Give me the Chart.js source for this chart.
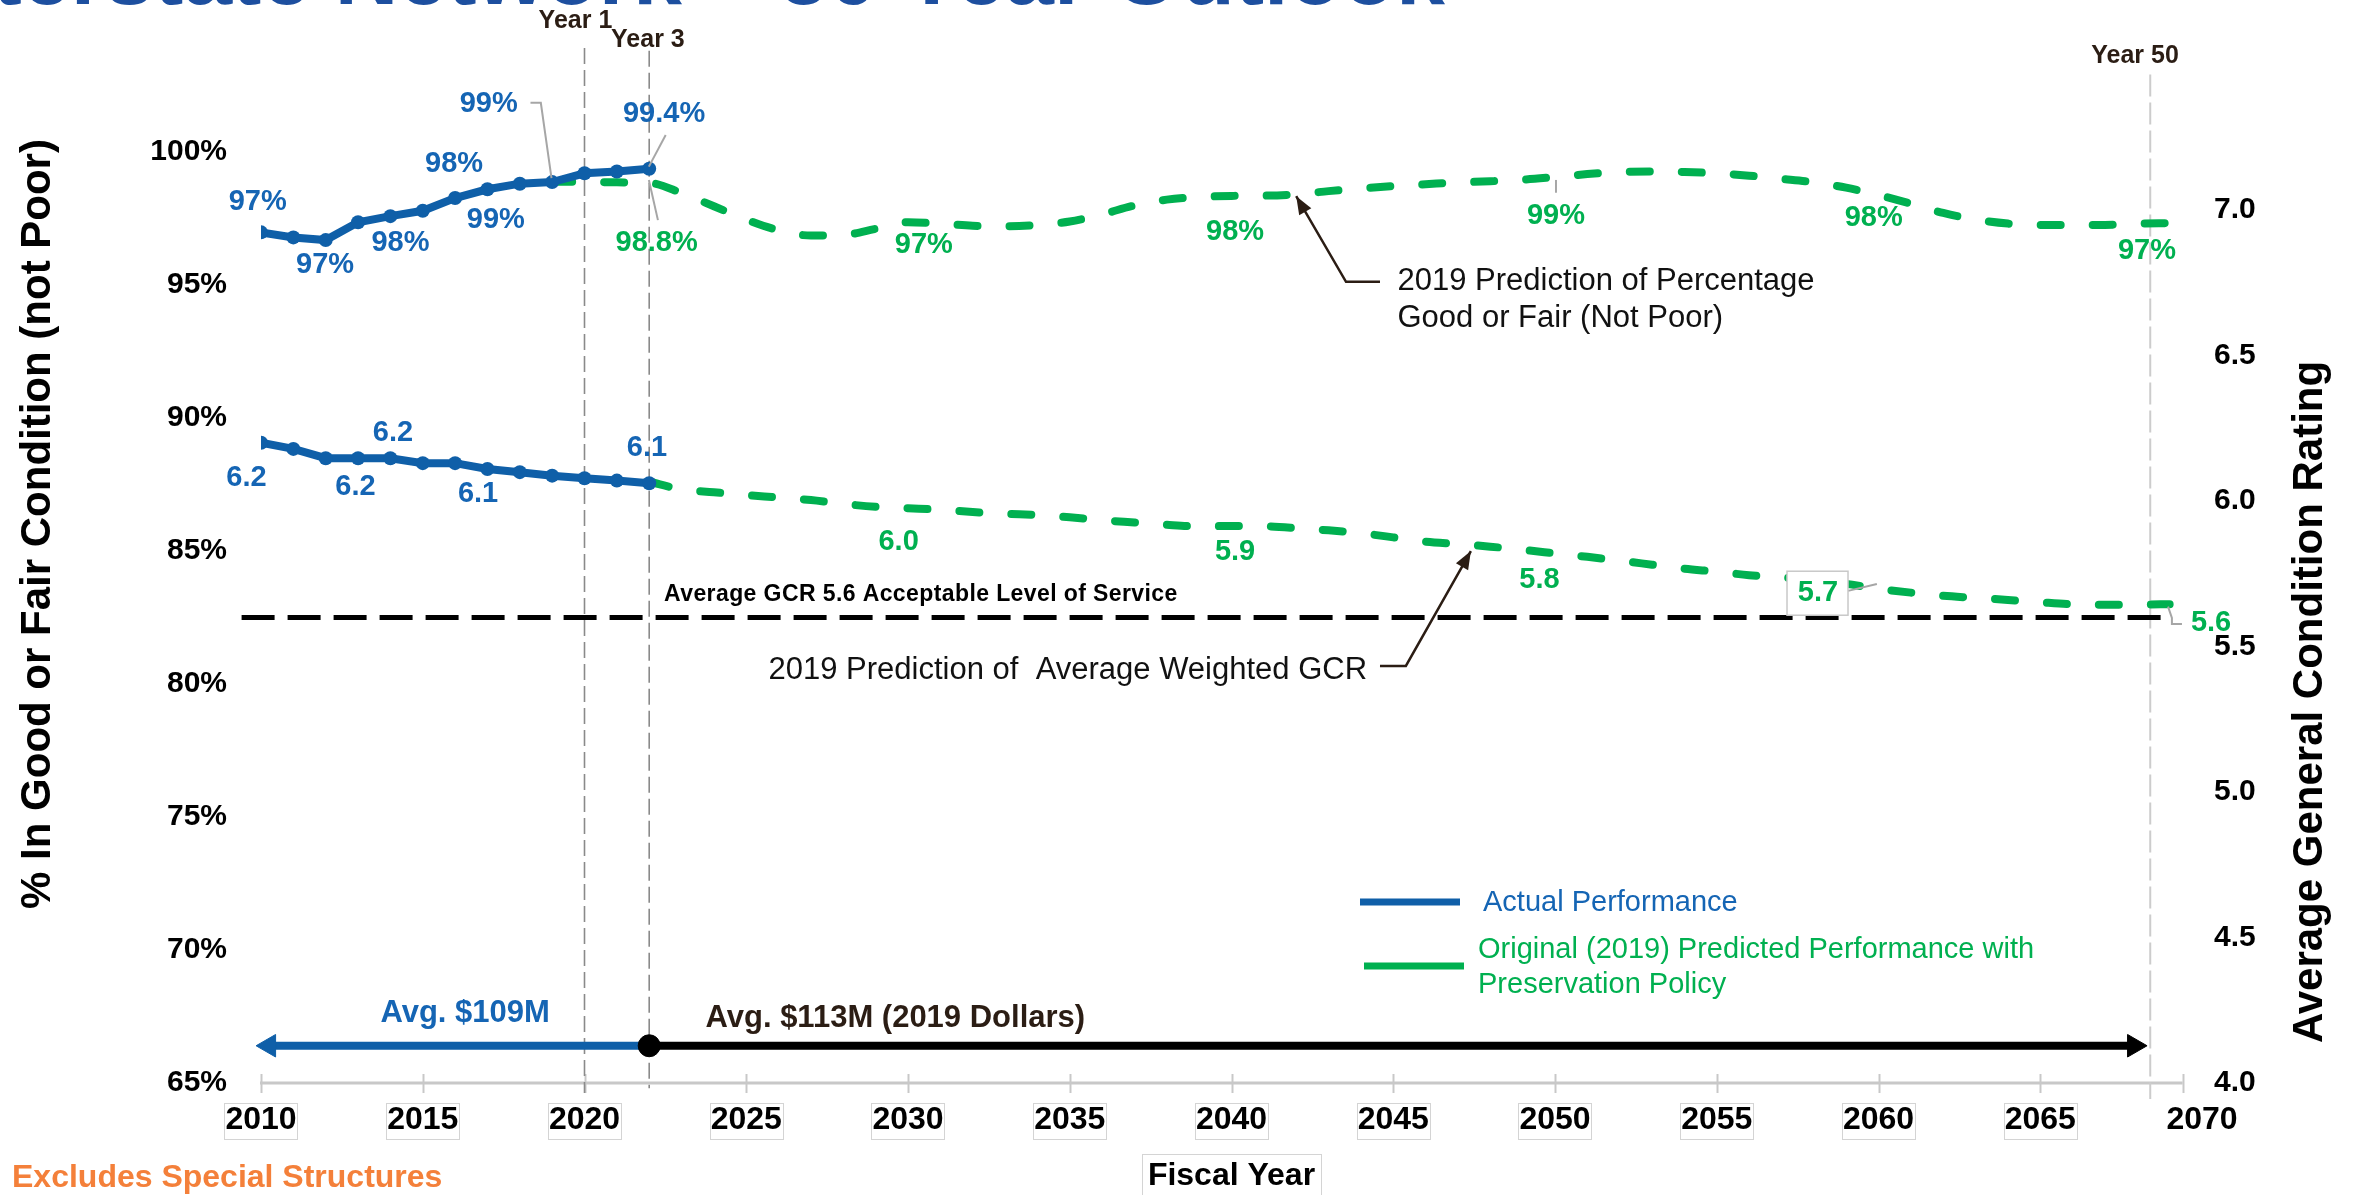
<!DOCTYPE html>
<html>
<head>
<meta charset="utf-8">
<script src="https://cdn.jsdelivr.net/npm/chart.js@4/dist/chart.umd.min.js"></script>
<style>
html,body{margin:0;padding:0;background:#fff;}
canvas{display:block;}
</style>
</head>
<body>
<canvas id="c" width="2356" height="1195"></canvas>
<script>
// ---------------- DATA ----------------
const actualYears = [2010,2011,2012,2013,2014,2015,2016,2017,2018,2019,2020,2021,2022];
const actualPct   = [96.97,96.78,96.68,97.35,97.58,97.78,98.26,98.59,98.80,98.86,99.19,99.26,99.36];
const actualGcr   = [6.200,6.179,6.147,6.147,6.147,6.130,6.130,6.110,6.099,6.087,6.078,6.070,6.061];

const predPctYears = [];
for (let y = 2019; y <= 2069; y++) predPctYears.push(y);
const predPct = [98.87,98.87,98.85,98.83,98.45,97.95,97.45,97.05,96.85,96.87,
                 97.10,97.35,97.30,97.22,97.20,97.25,97.38,97.65,97.98,98.20,
                 98.30,98.34,98.35,98.40,98.52,98.62,98.71,98.78,98.85,98.89,
                 98.95,99.05,99.16,99.24,99.26,99.24,99.19,99.10,98.98,98.85,
                 98.65,98.37,98.05,97.70,97.45,97.30,97.25,97.25,97.25,97.30,97.32];

const predGcrYears = [];
for (let y = 2022; y <= 2069; y++) predGcrYears.push(y);
const predGcr = [6.066,6.040,6.030,6.020,6.012,6.003,5.990,5.980,5.975,5.970,
                 5.962,5.956,5.952,5.944,5.934,5.926,5.918,5.913,5.914,5.913,
                 5.907,5.899,5.889,5.875,5.860,5.852,5.843,5.832,5.820,5.808,
                 5.795,5.781,5.767,5.757,5.745,5.738,5.728,5.715,5.698,5.685,
                 5.674,5.667,5.660,5.652,5.645,5.643,5.644,5.645];

const acceptableGcr = 5.6;
const acceptableSpan = [2009.4, 2069.1];
const markerYears = [2020, 2022, 2068.4];           // Year 1, Year 3, Year 50
const markerNames = ['Year 1', 'Year 3', 'Year 50'];
const spendBreakYear = 2022;
const spendStart = 2010.25, spendEnd = 2067.9;
const axisEndYear = 2069.4;

const xTicks   = [2010,2015,2020,2025,2030,2035,2040,2045,2050,2055,2060,2065,2070];
const pctTicks = [65,70,75,80,85,90,95,100];
const gcrTicks = [4.0,4.5,5.0,5.5,6.0,6.5,7.0];

// value labels: [text, year, value]
const actualPctLabels = [['97%',2009.9,98.12],['97%',2011.98,95.74],['98%',2014.31,96.58],['98%',2015.97,99.53],['99%',2017.26,97.43],['99%',2017.04,101.78],['99.4%',2022.46,101.42]];
const predPctLabels   = [['98.8%',2022.23,96.56],['97%',2030.49,96.49],['98%',2040.11,96.99],['99%',2050.03,97.58],['98%',2059.85,97.50],['97%',2068.30,96.28]];
const actualGcrLabels = [['6.2',2009.55,6.078],['6.2',2012.92,6.047],['6.2',2014.08,6.235],['6.1',2016.71,6.024],['6.1',2021.93,6.181]];
const predGcrLabels   = [['6.0',2029.71,5.860],['5.9',2040.11,5.826],['5.8',2049.52,5.729],['5.7',2058.13,5.683],['5.6',2070.28,5.580]];

// ---------------- STYLE / LAYOUT ----------------
const FONT = '"Liberation Sans", Arial, Helvetica, sans-serif';
const BLUE = '#0f5fa8', BLUE_TXT = '#1565b4', GREEN = '#00b050', DARK = '#2b1d14', GRAY = '#a6a6a6', AXIS = '#c8c8c8';
const PCT_MIN = 65, PCT_MAX = 104.2, GCR_MIN = 4, GCR_MAX = 7.584;
const ARROW_LEVEL = 66.4;

const pts = (xs, ys) => xs.map((x, i) => ({x, y: ys[i]}));

const datasets = [
  { label: 'Actual Performance', data: pts(actualYears, actualPct), yAxisID: 'yPct',
    borderColor: BLUE, backgroundColor: BLUE, borderWidth: 8, pointRadius: 7, pointBorderWidth: 0, tension: 0, order: 1 },
  { label: 'Actual GCR', data: pts(actualYears, actualGcr), yAxisID: 'yGcr',
    borderColor: BLUE, backgroundColor: BLUE, borderWidth: 8, pointRadius: 7, pointBorderWidth: 0, tension: 0, order: 1 },
  { label: 'Original (2019) Predicted Performance with Preservation Policy', data: pts(predPctYears, predPct), yAxisID: 'yPct',
    borderColor: GREEN, borderWidth: 8, borderDash: [20, 32], borderCapStyle: 'round', pointRadius: 0,
    cubicInterpolationMode: 'monotone', order: 5 },
  { label: 'Predicted GCR', data: pts(predGcrYears, predGcr), yAxisID: 'yGcr',
    borderColor: GREEN, borderWidth: 8, borderDash: [20, 32], borderCapStyle: 'round', pointRadius: 0,
    cubicInterpolationMode: 'monotone', order: 5 },
  { label: 'Acceptable Level of Service', data: acceptableSpan.map(x => ({x, y: acceptableGcr})), yAxisID: 'yGcr',
    borderColor: '#000', borderWidth: 5, borderDash: [33, 13], pointRadius: 0, clip: false, order: 6 },
  { label: 'Year 1', data: [{x: markerYears[0], y: 103.9}, {x: markerYears[0], y: 64.62}], yAxisID: 'yPct',
    borderColor: '#8a8a8a', borderWidth: 1.6, borderDash: [16, 6], pointRadius: 0, clip: false, order: 7 },
  { label: 'Year 3', data: [{x: markerYears[1], y: 103.8}, {x: markerYears[1], y: 64.8}], yAxisID: 'yPct',
    borderColor: '#8a8a8a', borderWidth: 1.6, borderDash: [16, 6], pointRadius: 0, clip: false, order: 7 },
  { label: 'Year 50', data: [{x: markerYears[2], y: 102.9}, {x: markerYears[2], y: 64.4}], yAxisID: 'yPct',
    borderColor: '#cccccc', borderWidth: 2, borderDash: [22, 6], pointRadius: 0, clip: false, order: 7 },
  { label: 'Avg. $109M', data: [{x: spendStart, y: ARROW_LEVEL}, {x: spendBreakYear, y: ARROW_LEVEL}], yAxisID: 'yPct',
    borderColor: BLUE, borderWidth: 8, pointStyle: 'triangle', pointRotation: [270, 0], pointRadius: [13, 0],
    pointBackgroundColor: BLUE, pointBorderColor: BLUE, pointBorderWidth: 1, clip: false, order: 3 },
  { label: 'Avg. $113M', data: [{x: spendBreakYear, y: ARROW_LEVEL}, {x: spendEnd, y: ARROW_LEVEL}], yAxisID: 'yPct',
    borderColor: '#000', borderWidth: 8, pointStyle: ['circle', 'triangle'], pointRotation: [0, 90], pointRadius: [11, 13],
    pointBackgroundColor: '#000', pointBorderColor: '#000', pointBorderWidth: 1, clip: false, order: 2 }
];

function arrowHead(ctx, x1, y1, x2, y2, len, half) {
  const a = Math.atan2(y2 - y1, x2 - x1);
  ctx.beginPath();
  ctx.moveTo(x2, y2);
  ctx.lineTo(x2 - len * Math.cos(a) + half * Math.sin(a), y2 - len * Math.sin(a) - half * Math.cos(a));
  ctx.lineTo(x2 - len * Math.cos(a) - half * Math.sin(a), y2 - len * Math.sin(a) + half * Math.cos(a));
  ctx.closePath();
  ctx.fill();
}

const decor = {
  id: 'decor',
  beforeDatasetsDraw(chart) {
    // x-axis baseline, ending just before 2070 as in the original
    const ctx = chart.ctx, sx = chart.scales.x;
    const y = sx.top;
    ctx.save();
    ctx.strokeStyle = AXIS; ctx.lineWidth = 3;
    ctx.beginPath(); ctx.moveTo(sx.getPixelForValue(2010) - 1, y); ctx.lineTo(sx.getPixelForValue(axisEndYear), y); ctx.stroke();
    ctx.lineWidth = 2;
    xTicks.filter(t => t < axisEndYear).concat([axisEndYear]).forEach(t => {
      const x = Math.round(sx.getPixelForValue(t)) + 0.5;
      ctx.beginPath(); ctx.moveTo(x, y - 9); ctx.lineTo(x, y + 10); ctx.stroke();
    });
    ctx.restore();
  },
  afterDraw(chart) {
    const ctx = chart.ctx;
    const sx = chart.scales.x, sp = chart.scales.yPct, sg = chart.scales.yGcr;
    const X = v => sx.getPixelForValue(v);
    const YP = v => sp.getPixelForValue(v);
    const YG = v => sg.getPixelForValue(v);
    ctx.save();

    // boxes around x tick labels
    ctx.font = 'bold 32px ' + FONT;
    ctx.strokeStyle = '#d4d4d4'; ctx.lineWidth = 1;
    xTicks.slice(0, -1).forEach(t => {
      const w = ctx.measureText(String(t)).width;
      const x = X(t);
      ctx.strokeRect(Math.round(x - w / 2 - 1) + 0.5, 1103.5, Math.round(w + 2), 36);
    });
    // box around axis title
    {
      const w = ctx.measureText('Fiscal Year').width;
      const cx = (chart.chartArea.left + chart.chartArea.right) / 2;
      ctx.strokeRect(Math.round(cx - w / 2 - 6) + 0.5, 1154.5, Math.round(w + 12), 50);
    }

    // leader lines (gray)
    ctx.strokeStyle = GRAY; ctx.lineWidth = 2;
    const poly = (arr, Y) => { ctx.beginPath(); arr.forEach((p, i) => { const x = X(p[0]), y = Y(p[1]); i ? ctx.lineTo(x, y) : ctx.moveTo(x, y); }); ctx.stroke(); };
    poly([[2018.33,101.84],[2018.65,101.84],[2018.98,99.01]], YP);
    poly([[2022.51,100.63],[2021.99,99.44]], YP);
    poly([[2021.99,98.94],[2022.27,97.43]], YP);
    poly([[2050.03,98.94],[2050.03,98.46]], YP);
    poly([[2059.06,5.691],[2059.95,5.715]], YG);
    poly([[2068.95,5.637],[2069.07,5.598],[2069.07,5.577],[2069.38,5.577]], YG);

    // value labels
    ctx.textAlign = 'center'; ctx.textBaseline = 'middle';
    ctx.font = 'bold 29px ' + FONT;
    ctx.fillStyle = BLUE_TXT;
    actualPctLabels.forEach(l => ctx.fillText(l[0], X(l[1]), YP(l[2])));
    actualGcrLabels.forEach(l => ctx.fillText(l[0], X(l[1]), YG(l[2])));
    ctx.fillStyle = GREEN;
    predPctLabels.forEach(l => ctx.fillText(l[0], X(l[1]), YP(l[2])));
    predGcrLabels.forEach(l => {
      const x = X(l[1]), y = YG(l[2]);
      if (l[0] === '5.7') {
        ctx.fillStyle = '#fff'; ctx.fillRect(x - 31, y - 22, 61, 44);
        ctx.strokeStyle = '#c8c8c8'; ctx.lineWidth = 1.5; ctx.strokeRect(x - 31, y - 22, 61, 44);
        ctx.fillStyle = GREEN;
      }
      ctx.fillText(l[0], x, y);
    });

    // year markers
    ctx.fillStyle = DARK; ctx.font = 'bold 25px ' + FONT;
    ctx.fillText(markerNames[0], X(2019.72), YP(104.92));
    ctx.fillText(markerNames[1], X(2021.96), YP(104.2));
    ctx.fillText(markerNames[2], X(2067.93), YP(103.6));

    // spending labels
    ctx.font = 'bold 31px ' + FONT;
    ctx.fillStyle = BLUE_TXT;
    ctx.fillText('Avg. $109M', X(2016.31), YP(67.62));
    ctx.fillStyle = DARK; ctx.textAlign = 'left';
    ctx.fillText('Avg. $113M (2019 Dollars)', X(2023.74), YP(67.43));

    // acceptable level text
    ctx.fillStyle = '#000'; ctx.font = 'bold 23px ' + FONT;
    try { ctx.letterSpacing = '0.4px'; } catch (e) {}
    ctx.fillText('Average GCR 5.6 Acceptable Level of Service', X(2022.46), YG(5.677));
    try { ctx.letterSpacing = '0px'; } catch (e) {}

    // callouts with arrows
    ctx.font = '31px ' + FONT; ctx.fillStyle = '#111';
    ctx.fillText('2019 Prediction of Percentage', X(2045.13), YP(95.11));
    ctx.fillText('Good or Fair (Not Poor)', X(2045.13), YP(93.74));
    ctx.textAlign = 'right';
    ctx.fillText('2019 Prediction of  Average Weighted GCR', X(2044.19), YG(5.419));
    ctx.strokeStyle = DARK; ctx.fillStyle = DARK; ctx.lineWidth = 2.5;
    const callout = (arr, Y) => {
      poly(arr, Y);
      const n = arr.length;
      arrowHead(ctx, X(arr[n-2][0]), Y(arr[n-2][1]), X(arr[n-1][0]), Y(arr[n-1][1]), 18, 7);
    };
    callout([[2044.59,95.11],[2043.54,95.11],[2042.0,98.33]], YP);
    callout([[2044.59,5.433],[2045.39,5.433],[2047.40,5.828]], YG);

    // legend (drawn from dataset labels)
    const ds = chart.data.datasets;
    ctx.lineWidth = 7; ctx.lineCap = 'butt';
    ctx.strokeStyle = BLUE; ctx.beginPath(); ctx.moveTo(1360, 902); ctx.lineTo(1460, 902); ctx.stroke();
    ctx.strokeStyle = GREEN; ctx.beginPath(); ctx.moveTo(1364, 966); ctx.lineTo(1464, 966); ctx.stroke();
    ctx.textAlign = 'left'; ctx.font = '29px ' + FONT;
    ctx.fillStyle = BLUE_TXT; ctx.fillText(ds[0].label, 1483, 903);
    ctx.fillStyle = GREEN;
    const gl = ds[2].label; const cut = gl.lastIndexOf(' Preservation');
    ctx.fillText(gl.slice(0, cut), 1478, 950);
    ctx.fillText(gl.slice(cut + 1), 1478, 985);

    // axis titles (rotated, reading bottom to top)
    ctx.fillStyle = '#000'; ctx.font = 'bold 42px ' + FONT; ctx.textAlign = 'center'; ctx.textBaseline = 'alphabetic';
    ctx.save(); ctx.translate(50, 524); ctx.rotate(-Math.PI / 2);
    ctx.fillText('% In Good or Fair Condition (not Poor)', 0, 0); ctx.restore();
    ctx.save(); ctx.translate(2322, 702); ctx.rotate(-Math.PI / 2);
    ctx.fillText('Average General Condition Rating', 0, 0); ctx.restore();

    // footnote
    ctx.textAlign = 'left'; ctx.textBaseline = 'middle';
    ctx.fillStyle = '#f4803a'; ctx.font = 'bold 32px ' + FONT;
    ctx.fillText('Excludes Special Structures', 12, 1178);

    // clipped page title at the very top
    ctx.fillStyle = '#1d4f9f'; ctx.font = 'bold 88px ' + FONT; ctx.textAlign = 'right'; ctx.textBaseline = 'alphabetic';
    ctx.fillText('Interstate Network \u2013 50 Year Outlook', 1445, 4);

    ctx.restore();
  }
};

const noPad = s => { s.paddingTop = 0; s.paddingBottom = 0; };

new Chart(document.getElementById('c'), {
  type: 'line',
  data: { datasets },
  options: {
    responsive: false, animation: false, devicePixelRatio: 1, events: [],
    layout: { padding: { top: 40, left: 0, right: 0, bottom: 0 } },
    plugins: { legend: { display: false }, tooltip: { enabled: false } },
    scales: {
      x: {
        type: 'linear', min: 2010, max: 2070,
        afterBuildTicks: s => { s.ticks = xTicks.map(v => ({ value: v })); },
        afterFit: s => { s.height = 112; s.paddingLeft = 0; s.paddingRight = 0; },
        ticks: { callback: v => String(v), font: { family: FONT, size: 32, weight: 'bold' }, color: '#000', padding: 8, maxRotation: 0, autoSkip: false },
        grid: { drawOnChartArea: false, drawTicks: true, color: 'rgba(0,0,0,0)', tickLength: 10 },
        border: { display: false },
        title: { display: true, text: 'Fiscal Year', font: { family: FONT, size: 32, weight: 'bold' }, color: '#000', padding: { top: 0, bottom: 0 } }
      },
      yPct: {
        type: 'linear', position: 'left', min: PCT_MIN, max: PCT_MAX,
        afterBuildTicks: s => { s.ticks = pctTicks.map(v => ({ value: v })); },
        afterFit: s => { s.width = 261; noPad(s); },
        ticks: { callback: v => v + '%', font: { family: FONT, size: 30, weight: 'bold' }, color: '#000', padding: 34 },
        grid: { display: false, drawTicks: false }, border: { display: false }
      },
      yGcr: {
        type: 'linear', position: 'right', min: GCR_MIN, max: GCR_MAX,
        afterBuildTicks: s => { s.ticks = gcrTicks.map(v => ({ value: v })); },
        afterFit: s => { s.width = 154; noPad(s); },
        ticks: { callback: v => Number(v).toFixed(1), font: { family: FONT, size: 30, weight: 'bold' }, color: '#000', padding: 12 },
        grid: { display: false, drawTicks: false }, border: { display: false }
      }
    }
  },
  plugins: [decor]
});
</script>
</body>
</html>
